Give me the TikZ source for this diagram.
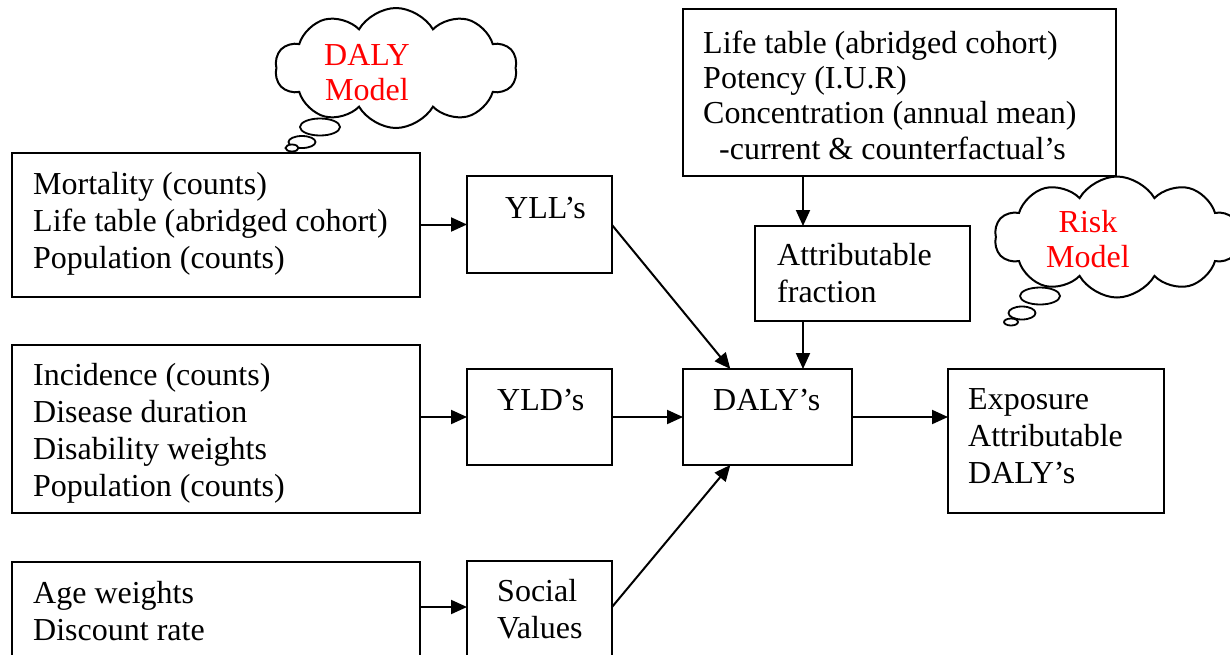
\documentclass[tikz,border=0pt]{standalone}
\usepackage{fontspec}
\setmainfont{Liberation Serif}
\usetikzlibrary{arrows.meta,calc,shapes.symbols,shapes.geometric}
\begin{document}
\begin{tikzpicture}[x=1pt,y=-1pt,
  box/.style={draw, line width=2pt, inner sep=0pt, outer sep=0pt},
  txt/.style={font=\fontsize{32}{36.8}\selectfont, inner sep=0pt, anchor=base west, align=left},
  redtxt/.style={font=\fontsize{32}{35}\selectfont, text=red, inner sep=0pt, anchor=base, align=center},
  conn/.style={line width=2pt, -{Triangle[length=16pt,width=14pt]}},
  thought/.style={cloud, draw, line width=2pt, cloud puffs=10, cloud puff arc=120, inner sep=0pt, fill=white},
  bubble/.style={ellipse, draw, line width=1.8pt, inner sep=0pt, fill=white}]
\path[use as bounding box, clip] (0,0) rectangle (1230,654);
% boxes
\node[box, minimum width=408, minimum height=144] (A) at (216,225) {};
\node[box, minimum width=408, minimum height=168] (B) at (216,429) {};
\node[box, minimum width=408, minimum height=140] (C) at (216,632) {};
\node[box, minimum width=145, minimum height=97] (YLL) at (539.5,224.5) {};
\node[box, minimum width=145, minimum height=96] (YLD) at (539.5,417) {};
\node[box, minimum width=145, minimum height=140] (Soc) at (539.5,631) {};
\node[box, minimum width=169, minimum height=96] (DALY) at (767.5,417) {};
\node[box, minimum width=216, minimum height=144] (Exp) at (1056,441) {};
\node[box, minimum width=433, minimum height=167] (Top) at (899.5,92.5) {};
\node[box, minimum width=215, minimum height=95] (AF) at (862.5,273.5) {};
% texts (anchor = baseline of the last line)
\node[txt] (tA) at (33,268.5) {Mortality (counts)\\Life table (abridged cohort)\\Population (counts)};
\node[txt] (tB) at (33,496) {Incidence (counts)\\Disease duration\\Disability weights\\Population (counts)};
\node[txt] (tC) at (33,640) {Age weights\\Discount rate};
\node[txt] (tYLL) at (505,218) {YLL’s};
\node[txt] (tYLD) at (497,410) {YLD’s};
\node[txt] (tSoc) at (497,638) {Social\\Values};
\node[txt] (tDALY) at (713,410) {DALY’s};
\node[txt] (tExp) at (968,483) {Exposure\\Attributable\\DALY’s};
\node[txt, font=\fontsize{32}{35.3}\selectfont] (tTop) at (703,159) {Life table (abridged cohort)\\Potency (I.U.R)\\Concentration (annual mean)\\\hspace*{16pt}-current \& counterfactual’s};
\node[txt] (tAF) at (777,302) {Attributable\\fraction};
% clouds
\node[thought, minimum width=242, minimum height=120] (c1) at (396,68) {};
\node[bubble, minimum width=40, minimum height=17] (b11) at (320,127) {};
\node[bubble, minimum width=27, minimum height=12] (b12) at (302,142) {};
\node[bubble, minimum width=13, minimum height=7] (b13) at (292,148) {};
\node[redtxt] (c1t) at (367,100) {DALY\\Model};
\node[thought, minimum width=245, minimum height=121] (c2) at (1117,237) {};
\node[bubble, minimum width=40, minimum height=17] (b21) at (1040,296) {};
\node[bubble, minimum width=27, minimum height=13] (b22) at (1022,313) {};
\node[bubble, minimum width=14, minimum height=7] (b23) at (1011,322) {};
\node[redtxt] (c2t) at (1088,267) {Risk\\Model};
% connectors
\coordinate (d1) at ($(DALY.north west)!0.28!(DALY.north east)$);
\coordinate (d2) at ($(DALY.north west)!0.71!(DALY.north east)$);
\coordinate (d3) at ($(DALY.south west)!0.28!(DALY.south east)$);
\coordinate (s1) at ($(Soc.north east)+(0,46)$);
\draw[conn] (A.east |- YLL.west) -- (YLL.west);
\draw[conn] (B.east |- YLD.west) -- (YLD.west);
\draw[conn] (C.east |- s1) -- (Soc.west |- s1);
\draw[conn] ($(YLL.north east)+(0,49)$) -- (d1);
\draw[conn] (YLD.east) -- (DALY.west);
\draw[conn] (s1) -- (d3);
\draw[conn] (Top.south -| d2) -- (AF.north -| d2);
\draw[conn] (AF.south -| d2) -- (d2);
\draw[conn] (DALY.east) -- (DALY.east -| Exp.west);
\end{tikzpicture}
\end{document}
